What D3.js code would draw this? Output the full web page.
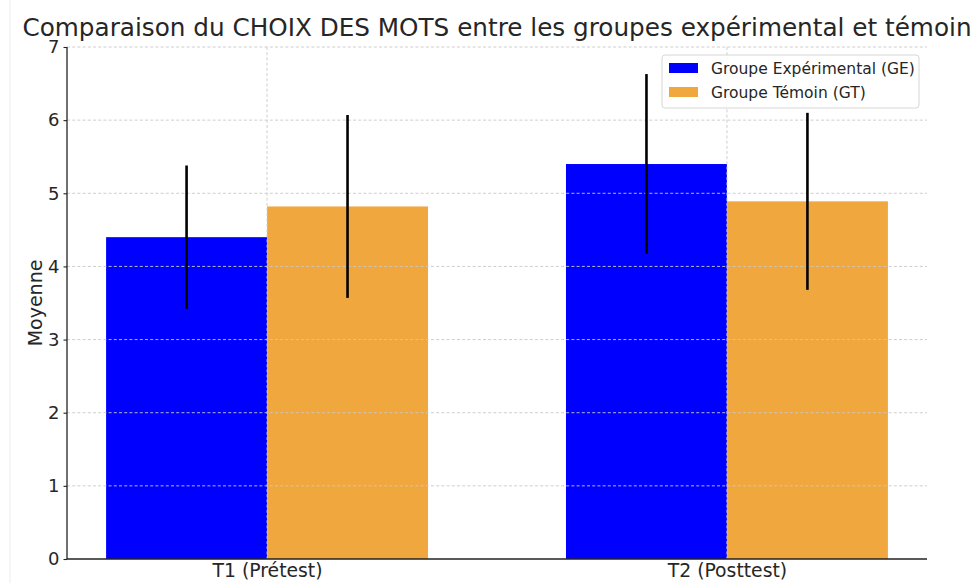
<!DOCTYPE html>
<html><head><meta charset="utf-8">
<script src="https://cdn.jsdelivr.net/npm/d3@7"></script>
<style>body{margin:0;background:#fff}svg{display:block}text{font-family:"DejaVu Sans",sans-serif;fill:#262626}</style>
</head><body><svg id="c" width="973" height="583"></svg>
<script>
const categories = ["T1 (Prétest)", "T2 (Posttest)"];
const seriesNames = ["Groupe Expérimental (GE)", "Groupe Témoin (GT)"];
const meansGE = [4.40, 5.40];
const meansGT = [4.82, 4.89];
const sdGE = [0.98, 1.23];
const sdGT = [1.25, 1.21];
const yTicks = [0, 1, 2, 3, 4, 5, 6, 7];
const colors = ["#0000ff", "#f0a73e"];
const title = "Comparaison du CHOIX DES MOTS entre les groupes expérimental et témoin";
const yLabel = "Moyenne";

const svg = d3.select("#c");
const L = 67, R = 927, T = 47, B = 559;
const barW = 0.35;
const x = d3.scaleLinear().domain([-0.435, 1.435]).range([L, R]);
const y = d3.scaleLinear().domain([0, 7]).range([B, T]);

svg.append("line").attr("x1",10).attr("x2",10).attr("y1",0).attr("y2",583).attr("stroke","#ededed");

const series = [
  {name: seriesNames[0], means: meansGE, sd: sdGE, off: -barW/2, color: colors[0]},
  {name: seriesNames[1], means: meansGT, sd: sdGT, off: barW/2, color: colors[1]}
];

// bars
series.forEach(s => {
  svg.append("g").selectAll("rect").data(s.means).join("rect")
    .attr("x", (d,i) => x(i + s.off - barW/2))
    .attr("width", x(barW) - x(0))
    .attr("y", d => y(d))
    .attr("height", d => y(0) - y(d))
    .attr("fill", s.color);
});

// grid (on top of bars)
const grid = svg.append("g").attr("stroke","#c8c8c8").attr("stroke-width",0.9).attr("stroke-dasharray","3,2.2");
grid.selectAll(".h").data(yTicks.slice(1)).join("line")
  .attr("x1", L).attr("x2", R).attr("y1", d => y(d)).attr("y2", d => y(d));
grid.selectAll(".v").data(categories).join("line")
  .attr("x1", (d,i) => x(i)).attr("x2", (d,i) => x(i)).attr("y1", T).attr("y2", B);

// error bars
series.forEach(s => {
  svg.append("g").selectAll("line").data(s.means).join("line")
    .attr("x1", (d,i) => x(i + s.off)).attr("x2", (d,i) => x(i + s.off))
    .attr("y1", (d,i) => y(d - s.sd[i])).attr("y2", (d,i) => y(d + s.sd[i]))
    .attr("stroke", "#000").attr("stroke-width", 2.6);
});

// axes
const yAxis = d3.axisLeft(y).tickValues(yTicks).tickFormat(d3.format("d")).tickSize(3.5).tickPadding(4);
const gy = svg.append("g").attr("transform", `translate(${L},0)`).call(yAxis);
gy.select(".domain").attr("stroke","#222").attr("stroke-width",1.3).attr("d", `M-0,${T}V${B}`);
gy.selectAll(".tick line").attr("stroke","#222").attr("stroke-width",1.1);
gy.selectAll(".tick text").attr("font-size", 18).attr("fill","#262626").style("font-family","DejaVu Sans");

const xAxis = d3.axisBottom(x).tickValues([0,1]).tickFormat((d) => categories[d]).tickSize(0).tickPadding(5);
const gx = svg.append("g").attr("transform", `translate(0,${B})`).call(xAxis);
gx.select(".domain").attr("stroke","#222").attr("stroke-width",1.3).attr("d", `M${L},0H${R}`);
gx.selectAll(".tick text").attr("font-size", 18.8).attr("fill","#262626").style("font-family","DejaVu Sans");

// y label
svg.append("text").attr("transform", `translate(42,${(T+B)/2}) rotate(-90)`)
  .attr("text-anchor","middle").attr("font-size",19).text(yLabel);

// title
svg.append("text").attr("x", (L+R)/2).attr("y", 36).attr("text-anchor","middle")
  .attr("font-size", 24.7).text(title);

// legend
const lg = svg.append("g").attr("transform","translate(662,55)");
lg.append("rect").attr("width",257).attr("height",53).attr("rx",3).attr("fill","#fff").attr("fill-opacity",0.85)
  .attr("stroke","#d6d6d6");
series.forEach((s,i) => {
  lg.append("rect").attr("x",7).attr("y",8 + i*24).attr("width",29).attr("height",10).attr("fill",s.color);
  lg.append("text").attr("x",49).attr("y",19 + i*24).attr("font-size",15.5).text(s.name);
});
</script></body></html>
